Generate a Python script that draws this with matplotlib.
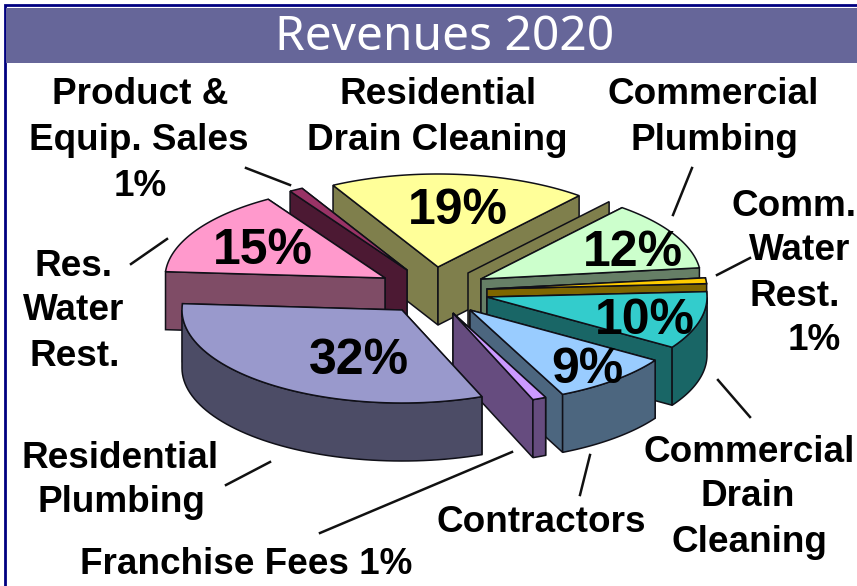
import numpy as np
import matplotlib
matplotlib.use("Agg")
import matplotlib.pyplot as plt
from matplotlib.patches import Polygon, Rectangle

TITLE = "Revenues 2020"
CATEGORIES = ["Residential Drain Cleaning", "Commercial Plumbing", "Comm. Water Rest.",
              "Commercial Drain Cleaning", "Contractors", "Franchise Fees",
              "Residential Plumbing", "Res. Water Rest.", "Product & Equip. Sales"]
VALUES = [19, 12, 1, 10, 9, 1, 32, 15, 1]

TOP_COLORS = ["#FFFF99", "#CCFFCC", "#FFCC00", "#33CCCC", "#99CCFF",
              "#CC99FF", "#9999CC", "#FF99CC", "#993366"]
SIDE_COLORS = ["#7F7F4C", "#667F66", "#7F6600", "#196666", "#4C667F",
               "#664C7F", "#4C4C66", "#7F4C66", "#4C1933"]

# explosion of each slice from the pie centre, in pixels
PIE_CENTER = (440, 295)
EXPLODE = [(-2, -28), (41, -16), (47, -6), (47, 2), (30, 15),
           (13, 18), (-38, 15), (-55, -17), (-33, -25)]
DRAW_ORDER = [0, 8, 7, 1, 2, 3, 4, 5, 6]

START_ANGLE = 118.5
RX, RY = 220, 93
DEPTH = 58

# where the percentage goes, None = it is part of the outside label
PCT_POS = [(458, 211), (633, 253), None, (645, 321), (587, 370), None,
           (359, 361), (263, 251), None]

# outside labels, one entry per line
LABEL_LINES = [("Product &", 140, 95), ("Equip. Sales", 139, 140), ("1%", 140, 186),
               ("Residential", 438, 95), ("Drain Cleaning", 437, 140),
               ("Commercial", 713, 95), ("Plumbing", 714, 140),
               ("Comm.", 794, 206), ("Water", 800, 251), ("Rest.", 795, 296), ("1%", 814, 341),
               ("Res.", 74, 266), ("Water", 74, 311), ("Rest.", 75, 356),
               ("Residential", 120, 458), ("Plumbing", 121, 503),
               ("Contractors", 541, 523), ("Franchise Fees 1%", 246, 565),
               ("Commercial", 749, 452), ("Drain", 748, 497), ("Cleaning", 749, 542)]

LEADERS = [((246, 168), (290, 185)), ((131, 264), (167, 239)), ((692, 168), (673, 215)),
           ((717, 275), (750, 258)), ((718, 380), (750, 417)), ((590, 455), (580, 495)),
           ((512, 452), (320, 533)), ((270, 462), (226, 485))]

FONT = "Liberation Sans"


def point(apex, deg):
    rad = np.radians(deg)
    return apex[0] + RX * np.cos(rad), apex[1] - RY * np.sin(rad)


def add_poly(ax, pts, color, z):
    ax.add_patch(Polygon(pts, closed=True, facecolor=color, edgecolor="#101018", linewidth=1.1, zorder=z))


def radial_wall(ax, apex, deg, color, z):
    x, y = point(apex, deg)
    add_poly(ax, [apex, (x, y), (x, y + DEPTH), (apex[0], apex[1] + DEPTH)], color, z)


def draw_slice(ax, idx, a0, a1, z):
    apex = (PIE_CENTER[0] + EXPLODE[idx][0], PIE_CENTER[1] + EXPLODE[idx][1])
    angles = np.linspace(a0, a1, 60)
    side = SIDE_COLORS[idx]

    # olive inner wall showing behind the 12% slice
    if idx == 1:
        radial_wall(ax, (apex[0] - 13, apex[1] - 6), a0, SIDE_COLORS[0], z)

    # wall whose outer end sits higher goes first
    walls = sorted([a0, a1], key=lambda a: -np.sin(np.radians(a)))
    radial_wall(ax, apex, walls[0], side, z + 0.1)
    radial_wall(ax, apex, walls[1], side, z + 0.15)

    front = angles[np.sin(np.radians(angles)) < 0]
    if len(front) > 1:
        upper = [point(apex, a) for a in front]
        lower = [(x, y + DEPTH) for x, y in upper][::-1]
        add_poly(ax, upper + lower, side, z + 0.2)

    add_poly(ax, [apex] + [point(apex, a) for a in angles], TOP_COLORS[idx], z + 0.3)

    if PCT_POS[idx] is not None:
        ax.text(PCT_POS[idx][0], PCT_POS[idx][1], f"{VALUES[idx]}%", ha="center", va="center",
                fontsize=36, fontweight="bold", family=FONT, color="black", zorder=z + 0.4)


fig = plt.figure(figsize=(8.57, 5.86), dpi=100)
ax = fig.add_axes([0, 0, 1, 1])
ax.set_xlim(0, 857)
ax.set_ylim(586, 0)
ax.axis("off")

# frame and title band
ax.add_patch(Rectangle((5, 5), 860, 600, facecolor="white", edgecolor="#000080", linewidth=2, zorder=0))
ax.add_patch(Rectangle((6, 8), 860, 55, facecolor="#666699", edgecolor="none", zorder=1))
ax.text(445, 37, TITLE, color="white", ha="center", va="center", fontsize=34.5,
        fontweight="medium", family="Noto Sans", zorder=2)

edges = START_ANGLE - np.cumsum([0] + VALUES) * 3.6
for order, i in enumerate(DRAW_ORDER):
    draw_slice(ax, i, edges[i], edges[i + 1], 10 + order)

for (x0, y0), (x1, y1) in LEADERS:
    ax.plot([x0, x1], [y0, y1], color="#111111", linewidth=1.8, zorder=30)

for text, x, y in LABEL_LINES:
    ax.text(x, y, text, ha="center", va="center", fontsize=26.6, fontweight="bold",
            family=FONT, color="black", zorder=31)

fig.savefig("out.png", dpi=100)
